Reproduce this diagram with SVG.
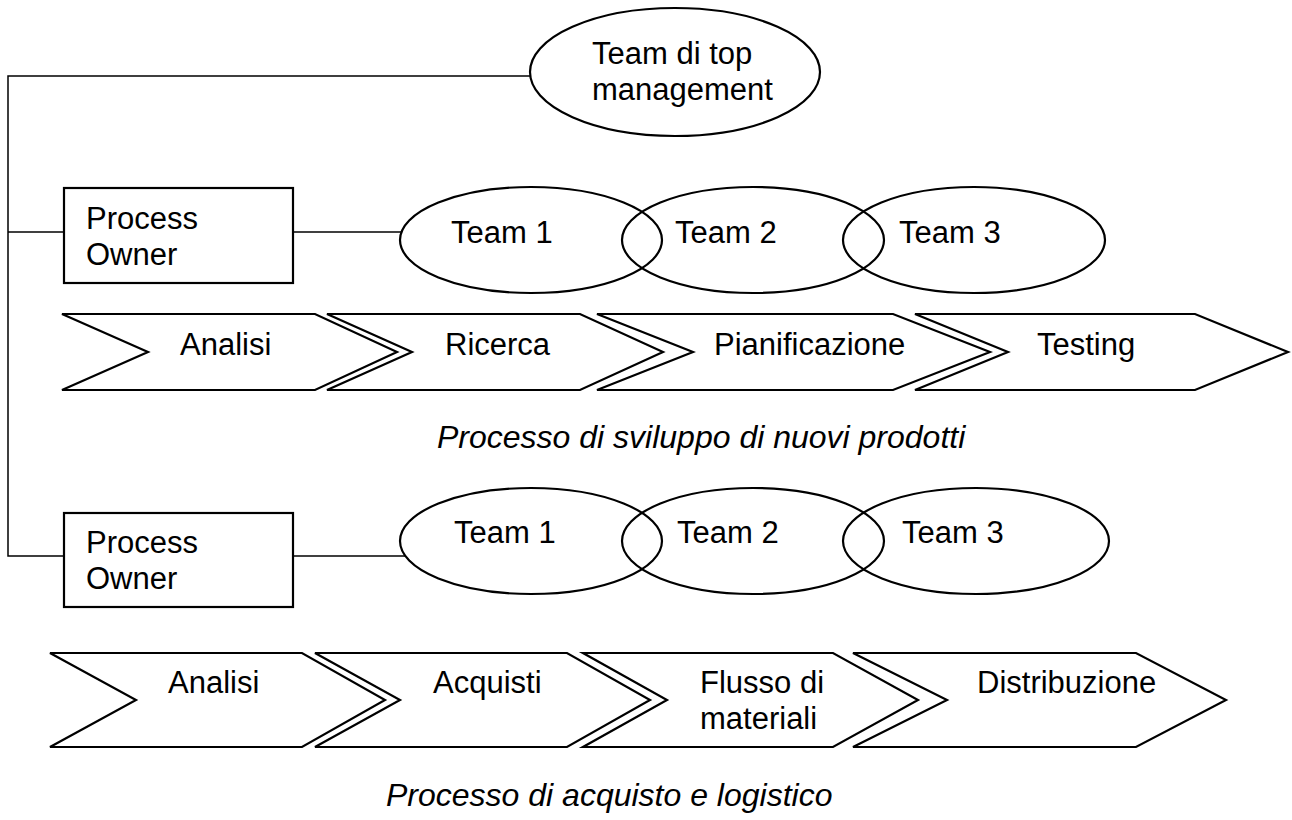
<svg xmlns="http://www.w3.org/2000/svg" width="1292" height="820" viewBox="0 0 1292 820">
  <style>
    .shape { fill: #fff; stroke: #000; stroke-width: 2.2; stroke-linejoin: miter; }
    .link { fill: none; stroke: #000; stroke-width: 1.5; }
    .lbl { font-family: "Liberation Sans", Arial, sans-serif; font-size: 31px; fill: #000; }
    .cap { font-family: "Liberation Sans", Arial, sans-serif; font-size: 32px; font-style: italic; fill: #000; }
  </style>
  <rect width="1292" height="820" fill="#fff"/>

  <!-- connectors -->
  <g id="connectors">
    <polyline class="link" points="530,76 8,76 8,556 64,556"/>
    <line class="link" x1="8" y1="232" x2="64" y2="232"/>
    <line class="link" x1="293" y1="232" x2="401" y2="232"/>
    <line class="link" x1="293" y1="556" x2="406" y2="556"/>
  </g>

  <!-- top management -->
  <g id="top-management">
    <ellipse class="shape" cx="675" cy="72" rx="145" ry="64"/>
    <text class="lbl" x="592" y="64">Team di top</text>
    <text class="lbl" x="592" y="100">management</text>
  </g>

  <!-- process 1: new product development -->
  <g id="owner-1">
    <rect class="shape" x="64" y="188" width="229" height="95"/>
    <text class="lbl" x="86" y="229">Process</text>
    <text class="lbl" x="86" y="265">Owner</text>
  </g>
  <g id="teams-1">
    <ellipse class="shape" cx="531" cy="240" rx="131" ry="53" fill="none" style="fill:none"/>
    <ellipse class="shape" cx="753" cy="240" rx="131" ry="53" style="fill:none"/>
    <ellipse class="shape" cx="974" cy="240" rx="131" ry="53" style="fill:none"/>
    <text class="lbl" x="451" y="243">Team 1</text>
    <text class="lbl" x="675" y="243">Team 2</text>
    <text class="lbl" x="899" y="243">Team 3</text>
  </g>
  <g id="steps-1">
    <polygon class="shape" points="62,314 315,314 397,352 315,390 62,390 148,352"/>
    <polygon class="shape" points="327,314 580,314 663,352 580,390 327,390 412,352"/>
    <polygon class="shape" points="597,314 893,314 990,352 893,390 597,390 693,352"/>
    <polygon class="shape" points="915,314 1195,314 1288,352 1195,390 915,390 1008,352"/>
    <text class="lbl" x="180" y="355">Analisi</text>
    <text class="lbl" x="445" y="355">Ricerca</text>
    <text class="lbl" x="714" y="355">Pianificazione</text>
    <text class="lbl" x="1037" y="355">Testing</text>
  </g>
  <text class="cap" x="437" y="448">Processo di sviluppo di nuovi prodotti</text>

  <!-- process 2: purchasing and logistics -->
  <g id="owner-2">
    <rect class="shape" x="64" y="513" width="229" height="94"/>
    <text class="lbl" x="86" y="553">Process</text>
    <text class="lbl" x="86" y="589">Owner</text>
  </g>
  <g id="teams-2">
    <ellipse class="shape" cx="531" cy="541" rx="131" ry="53" style="fill:none"/>
    <ellipse class="shape" cx="753" cy="541" rx="131" ry="53" style="fill:none"/>
    <ellipse class="shape" cx="976" cy="541" rx="133" ry="53" style="fill:none"/>
    <text class="lbl" x="454" y="543">Team 1</text>
    <text class="lbl" x="677" y="543">Team 2</text>
    <text class="lbl" x="902" y="543">Team 3</text>
  </g>
  <g id="steps-2">
    <polygon class="shape" points="50,653 302,653 385,700 302,747 50,747 136,700"/>
    <polygon class="shape" points="315,653 567,653 650,700 567,747 315,747 400,700"/>
    <polygon class="shape" points="583,653 833,653 918,700 833,747 583,747 667,700"/>
    <polygon class="shape" points="853,653 1136,653 1226,700 1136,747 853,747 947,700"/>
    <text class="lbl" x="168" y="693">Analisi</text>
    <text class="lbl" x="433" y="693">Acquisti</text>
    <text class="lbl" x="700" y="693">Flusso di</text>
    <text class="lbl" x="700" y="729">materiali</text>
    <text class="lbl" x="977" y="693">Distribuzione</text>
  </g>
  <text class="cap" x="386" y="806">Processo di acquisto e logistico</text>
</svg>
